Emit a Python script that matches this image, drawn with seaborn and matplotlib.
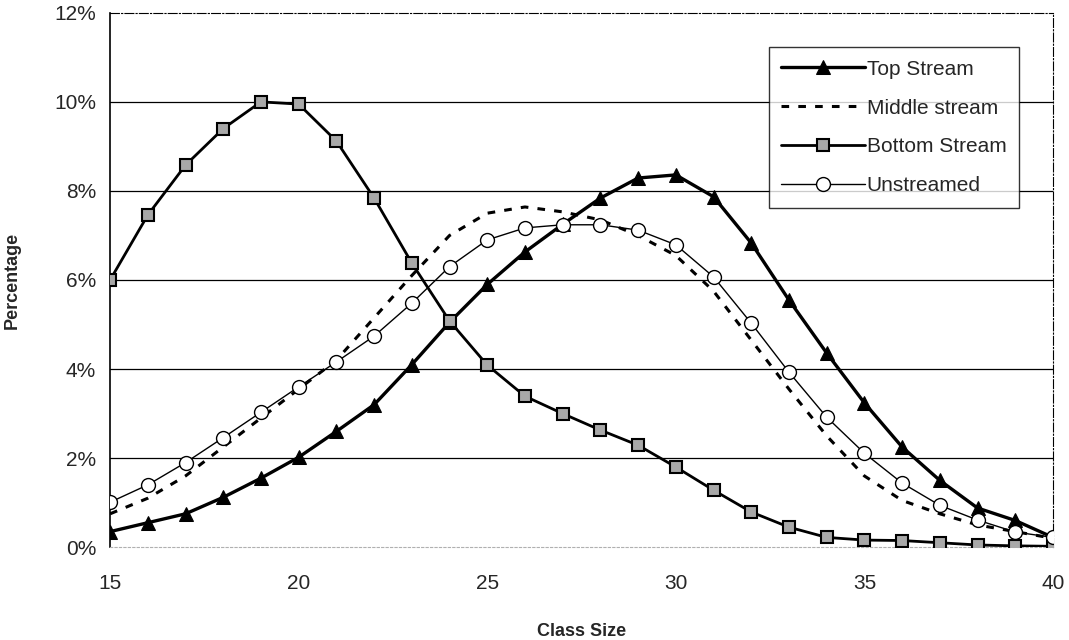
import numpy as np
import pandas as pd
import seaborn as sns
import matplotlib.pyplot as plt
from matplotlib.ticker import FuncFormatter


class_size = list(range(15, 41))

top_stream = [0.35, 0.55, 0.75, 1.12, 1.55, 2.02, 2.6, 3.2, 4.1, 5.05,
              5.9, 6.63, 7.25, 7.84, 8.29, 8.36, 7.87, 6.83, 5.55, 4.36,
              3.24, 2.25, 1.5, 0.88, 0.6, 0.22]

middle_stream = [0.75, 1.1, 1.6, 2.25, 2.9, 3.55, 4.2, 5.15, 6.1, 7.0,
                 7.5, 7.64, 7.53, 7.35, 7.0, 6.55, 5.75, 4.65, 3.55, 2.5,
                 1.6, 1.05, 0.75, 0.5, 0.35, 0.2]

bottom_stream = [6.0, 7.46, 8.58, 9.4, 10.0, 9.95, 9.12, 7.84, 6.38, 5.08,
                 4.09, 3.39, 3.0, 2.63, 2.29, 1.8, 1.28, 0.79, 0.45, 0.22,
                 0.16, 0.15, 0.1, 0.05, 0.03, 0.02]

unstreamed = [1.01, 1.4, 1.9, 2.46, 3.03, 3.6, 4.16, 4.74, 5.48, 6.3,
              6.9, 7.17, 7.24, 7.24, 7.12, 6.79, 6.07, 5.03, 3.93, 2.92,
              2.11, 1.44, 0.94, 0.61, 0.34, 0.22]

series_names = ["Top Stream", "Middle stream", "Bottom Stream", "Unstreamed"]


def main():
    df = pd.DataFrame({
        "Class Size": class_size,
        "Top Stream": top_stream,
        "Middle stream": middle_stream,
        "Bottom Stream": bottom_stream,
        "Unstreamed": unstreamed,
    })

    sns.set_style("white")
    plt.rcParams['font.family'] = ['Liberation Sans', 'DejaVu Sans']

    fig = plt.figure(figsize=(10.69, 6.40), dpi=100)
    ax = fig.add_axes([0.103, 0.145, 0.882, 0.835])

    styles = {
        "Top Stream": dict(color="black", lw=2.4, ls="-", marker="^", ms=10,
                           mfc="black", mec="black", zorder=4),
        "Middle stream": dict(color="black", lw=2.2, ls=(0, (2.5, 3)), marker=None,
                              zorder=3),
        "Bottom Stream": dict(color="black", lw=2.0, ls="-", marker="s", ms=9,
                              mfc="#a8a8a8", mec="black", mew=1.5, zorder=5),
        "Unstreamed": dict(color="black", lw=1.0, ls="-", marker="o", ms=10,
                           mfc="white", mec="black", mew=1.0, zorder=6),
    }

    for name in series_names:
        st = dict(styles[name])
        z = st.pop("zorder")
        sns.lineplot(data=df, x="Class Size", y=name, ax=ax, label=name,
                     zorder=z, **st)

    ax.set_xlim(15, 40)
    ax.set_ylim(0, 12)
    ax.set_xticks(range(15, 41, 5))
    ax.set_yticks(range(0, 13, 2))
    ax.yaxis.set_major_formatter(FuncFormatter(lambda v, p: f"{v:.0f}%"))

    for yv in range(2, 12, 2):
        ax.axhline(yv, color="black", lw=0.9, zorder=1)

    ax.spines['left'].set_color("black")
    ax.spines['left'].set_linewidth(1.2)
    ax.spines['bottom'].set_color("#b0b0b0")
    ax.spines['bottom'].set_linestyle((0, (2, 2)))
    ax.spines['top'].set_color("black")
    ax.spines['top'].set_linestyle((0, (8, 2, 1, 2)))
    ax.spines['right'].set_color("black")
    ax.spines['right'].set_linestyle((0, (8, 2, 1, 2)))

    ax.tick_params(axis='x', direction='out', length=5, width=1, color="black",
                   labelsize=15, pad=14)
    ax.tick_params(axis='y', length=0, labelsize=15, pad=10)

    ax.set_xlabel("Class Size", fontsize=13, fontweight="bold", labelpad=22)
    ax.set_ylabel("Percentage", fontsize=13, fontweight="bold", labelpad=24)

    leg = ax.legend(loc="upper right", bbox_to_anchor=(0.975, 0.955), fontsize=15,
                    frameon=True, fancybox=False, edgecolor="black",
                    handlelength=4.0, handletextpad=0.1, borderpad=0.6,
                    labelspacing=0.95)
    leg.get_frame().set_linewidth(1.0)

    plt.savefig("out.png", dpi=100)


if __name__ == "__main__":
    main()
